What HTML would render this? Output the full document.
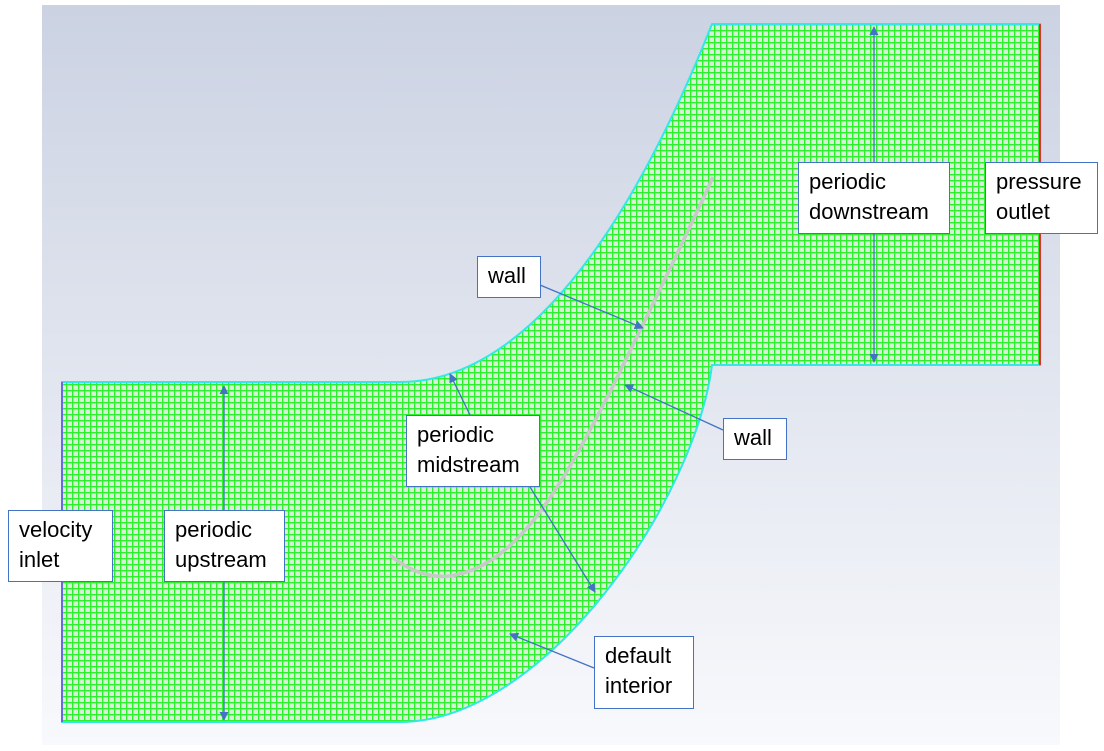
<!DOCTYPE html>
<html><head><meta charset="utf-8"><style>
body{margin:0;width:1104px;height:751px;background:#fff;overflow:hidden;font-family:"Liberation Sans",sans-serif}
.lbl{position:absolute;background:#fff;border:1.3px solid #4472c4;font-size:22px;line-height:30px;padding:4px 10px;box-sizing:border-box;color:#000}
</style></head><body>
<svg width="1104" height="751" style="position:absolute;left:0;top:0">
<defs>
<linearGradient id="bg" x1="0" y1="0" x2="0" y2="1"><stop offset="0" stop-color="#cbd2e2"/><stop offset="1" stop-color="#f8f9fc"/></linearGradient>
<pattern id="mesh" width="6" height="6" patternUnits="userSpaceOnUse"><rect width="6" height="6" fill="#d6efd6"/><path d="M0 0.6H6M0.6 0V6" stroke="#2cf02c" stroke-width="1.5"/></pattern>
<marker id="ah" viewBox="0 0 10 10" refX="9" refY="5" markerWidth="7" markerHeight="7" orient="auto-start-reverse"><path d="M0 0L10 5L0 10z" fill="#4472c4"/></marker>
</defs>
<rect x="42" y="5" width="1018" height="740" fill="url(#bg)"/>
<path d="M62,382 H400 C560,382 670,130 712,24 H1040 V365 H712 C695,500 545,722 400,722 H62 Z" fill="url(#mesh)" stroke="#30e8e8" stroke-width="2"/>
<line x1="62" y1="382" x2="62" y2="722" stroke="#6a6ae0" stroke-width="2"/>
<line x1="1040" y1="24" x2="1040" y2="365" stroke="#e03030" stroke-width="2"/>
<path d="M390,555 C410,572 430,578 450,576 C490,570 520,540 545,505 C570,470 590,430 610,392 C640,330 680,250 713,177" fill="none" stroke="#c8c8c8" stroke-width="3.5"/>
<g stroke="#4472c4" stroke-width="1.3" fill="none">
<line x1="224" y1="386" x2="224" y2="720" marker-start="url(#ah)" marker-end="url(#ah)"/>
<line x1="874" y1="27" x2="874" y2="362" marker-start="url(#ah)" marker-end="url(#ah)"/>
<line x1="540" y1="285" x2="643" y2="328" marker-end="url(#ah)"/>
<line x1="723" y1="430" x2="625" y2="385" marker-end="url(#ah)"/>
<line x1="470" y1="415" x2="450" y2="374" marker-end="url(#ah)"/>
<line x1="530" y1="487" x2="595" y2="592" marker-end="url(#ah)"/>
<line x1="594" y1="668" x2="510" y2="634" marker-end="url(#ah)"/>
</g>
</svg>
<div class="lbl" style="left:477px;top:256px;width:64px;height:42px">wall</div>
<div class="lbl" style="left:798px;top:162px;width:152px;height:72px">periodic downstream</div>
<div class="lbl" style="left:985px;top:162px;width:113px;height:72px">pressure outlet</div>
<div class="lbl" style="left:723px;top:418px;width:64px;height:42px">wall</div>
<div class="lbl" style="left:406px;top:415px;width:134px;height:72px">periodic midstream</div>
<div class="lbl" style="left:8px;top:510px;width:105px;height:72px">velocity inlet</div>
<div class="lbl" style="left:164px;top:510px;width:121px;height:72px">periodic upstream</div>
<div class="lbl" style="left:594px;top:636px;width:100px;height:73px">default interior</div>
</body></html>
